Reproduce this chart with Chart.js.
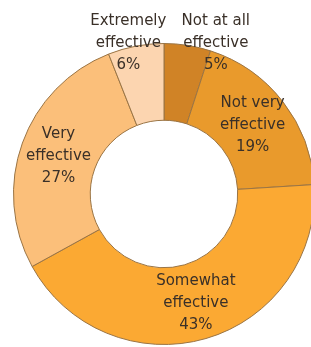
<!DOCTYPE html>
<html>
<head>
<meta charset="utf-8">
<script src="https://cdn.jsdelivr.net/npm/chart.js@4"></script>
<style>
  html, body { margin: 0; padding: 0; background: #fff; overflow: hidden; }
  #wrap { width: 311px; height: 347px; overflow: hidden; }
</style>
</head>
<body>
<div id="wrap"><canvas id="chart" width="330" height="347"></canvas></div>
<script>
// slices go clockwise from 12 o'clock
const categories = [
  ['Not at all', 'effective'],
  ['Not very', 'effective'],
  ['Somewhat', 'effective'],
  ['Very', 'effective'],
  ['Extremely', 'effective']
];
const shares = [5, 19, 43, 27, 6];
const sliceColors = ['#d08326', '#e99a2c', '#fba933', '#fbbf7a', '#fcd5b0'];

// small slices get their label pushed out above the ring
const labelPlace = [
  { turn: 10, out: 47 },
  { turn: 0, out: 0 },
  { turn: 0, out: 2 },
  { turn: 0, out: 0 },
  { turn: -2.5, out: 43 }
];

const sliceLabels = {
  id: 'sliceLabels',
  afterDatasetsDraw(chart, args, opts) {
    const ctx = chart.ctx;
    const meta = chart.getDatasetMeta(0);
    ctx.save();
    ctx.font = opts.font;
    ctx.fillStyle = opts.color;
    ctx.textAlign = 'center';
    ctx.textBaseline = 'middle';
    meta.data.forEach((arc, i) => {
      const p = arc.getProps(['x', 'y', 'startAngle', 'endAngle', 'innerRadius', 'outerRadius'], true);
      const place = labelPlace[i];
      const a = (p.startAngle + p.endAngle) / 2 + place.turn * Math.PI / 180;
      const r = (p.innerRadius + p.outerRadius) / 2 + place.out;
      const cx = p.x + r * Math.cos(a);
      const cy = p.y + r * Math.sin(a);
      const lines = [...chart.data.labels[i], shares[i] + '%'];
      lines.forEach((t, k) => {
        ctx.fillText(t, cx, cy + (k - (lines.length - 1) / 2) * opts.lineHeight);
      });
    });
    ctx.restore();
  }
};

new Chart(document.getElementById('chart'), {
  type: 'doughnut',
  data: {
    labels: categories,
    datasets: [{
      data: shares,
      backgroundColor: sliceColors,
      borderColor: '#9a7444',
      borderWidth: 1
    }]
  },
  options: {
    responsive: false,
    animation: false,
    cutout: '49%',
    layout: { padding: { top: 43, bottom: 2, left: 13, right: 15 } },
    plugins: {
      legend: { display: false },
      tooltip: { enabled: false },
      sliceLabels: { font: '15px "DejaVu Sans"', color: '#3a3028', lineHeight: 22 }
    }
  },
  plugins: [sliceLabels]
});
</script>
</body>
</html>
